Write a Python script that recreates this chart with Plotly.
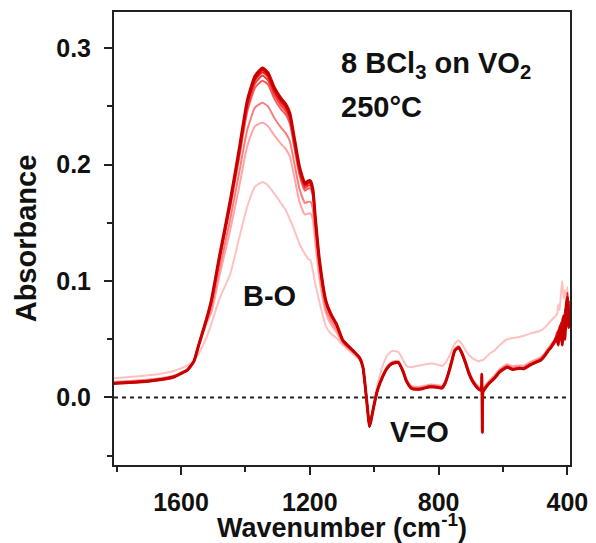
import plotly.graph_objects as go

# Wavenumber grid (cm^-1), shared by all spectra
wavenumber = [1808, 1760, 1700, 1650, 1620, 1600, 1580, 1560, 1544, 1520,
              1506, 1480, 1447, 1420, 1394, 1370, 1347, 1330, 1310, 1290,
              1275, 1262, 1250, 1232, 1215, 1205, 1198, 1190, 1183, 1170,
              1150, 1135, 1117, 1097, 1065, 1045, 1035, 1028, 1020, 1015,
              1010, 1003, 990, 975, 960, 945, 925, 910, 900, 885,
              870, 850, 830, 815, 800, 790, 780, 770, 760, 750,
              738, 728, 717, 705, 696, 685, 675, 668, 666, 664,
              662, 655, 640, 628, 610, 587, 570, 550, 535, 515,
              500, 483, 470, 460, 451, 440, 432, 428, 424, 420,
              416, 412, 408, 404, 400, 396, 393]

# Absorbance spectra, lightest (first) to darkest (last)
spec1 = [0.0165, 0.0175, 0.0190, 0.0210, 0.0230, 0.0250, 0.0275, 0.0315, 0.0380, 0.0520,
         0.0630, 0.0850, 0.1060, 0.1360, 0.1640, 0.1810, 0.1850, 0.1820, 0.1750, 0.1670,
         0.1610, 0.1530, 0.1450, 0.1320, 0.1230, 0.1190, 0.1180, 0.1080, 0.0980, 0.0820,
         0.0610, 0.0550, 0.0510, 0.0450, 0.0370, 0.0320, 0.0250, 0.0100, -0.0110, -0.0230,
         -0.0180, -0.0070, 0.0110, 0.0260, 0.0360, 0.0400, 0.0390, 0.0320, 0.0270, 0.0260,
         0.0270, 0.0280, 0.0290, 0.0290, 0.0280, 0.0270, 0.0290, 0.0340, 0.0400, 0.0460,
         0.0490, 0.0460, 0.0410, 0.0360, 0.0340, 0.0320, 0.0310, 0.0320, 0.0320, 0.0320,
         0.0320, 0.0340, 0.0380, 0.0400, 0.0450, 0.0500, 0.0510, 0.0520, 0.0530, 0.0550,
         0.0560, 0.0575, 0.0600, 0.0630, 0.0660, 0.0690, 0.0720, 0.0800, 0.0750, 0.0900,
         0.1000, 0.0850, 0.0920, 0.0800, 0.0950, 0.0700, 0.0800]

spec2 = [0.0135, 0.0142, 0.0155, 0.0172, 0.0190, 0.0215, 0.0243, 0.0310, 0.0445, 0.0640,
         0.0725, 0.1050, 0.1440, 0.1800, 0.2160, 0.2330, 0.2360, 0.2330, 0.2250, 0.2180,
         0.2135, 0.2070, 0.1920, 0.1680, 0.1570, 0.1580, 0.1580, 0.1520, 0.1330, 0.1020,
         0.0725, 0.0630, 0.0560, 0.0460, 0.0385, 0.0330, 0.0255, 0.0100, -0.0115, -0.0240,
         -0.0190, -0.0090, 0.0075, 0.0185, 0.0265, 0.0305, 0.0315, 0.0235, 0.0160, 0.0100,
         0.0092, 0.0097, 0.0110, 0.0110, 0.0105, 0.0100, 0.0140, 0.0220, 0.0320, 0.0415,
         0.0445, 0.0398, 0.0320, 0.0222, 0.0168, 0.0122, 0.0094, 0.0085, 0.0083, 0.0082,
         0.0080, 0.0105, 0.0155, 0.0185, 0.0245, 0.0285, 0.0268, 0.0275, 0.0272, 0.0305,
         0.0325, 0.0345, 0.0385, 0.0425, 0.0455, 0.0500, 0.0540, 0.0560, 0.0520, 0.0620,
         0.0580, 0.0650, 0.0720, 0.0600, 0.0820, 0.0700, 0.0680]

spec3 = [0.0130, 0.0138, 0.0150, 0.0168, 0.0186, 0.0212, 0.0240, 0.0310, 0.0455, 0.0660,
         0.0763, 0.1110, 0.1530, 0.1920, 0.2300, 0.2490, 0.2530, 0.2500, 0.2400, 0.2320,
         0.2270, 0.2200, 0.2040, 0.1790, 0.1670, 0.1680, 0.1680, 0.1610, 0.1410, 0.1080,
         0.0760, 0.0665, 0.0585, 0.0470, 0.0390, 0.0333, 0.0257, 0.0100, -0.0117, -0.0245,
         -0.0195, -0.0095, 0.0068, 0.0178, 0.0258, 0.0298, 0.0308, 0.0228, 0.0150, 0.0090,
         0.0081, 0.0086, 0.0100, 0.0100, 0.0095, 0.0090, 0.0130, 0.0210, 0.0310, 0.0408,
         0.0438, 0.0390, 0.0310, 0.0211, 0.0157, 0.0111, 0.0082, 0.0073, 0.0072, 0.0071,
         0.0068, 0.0093, 0.0143, 0.0173, 0.0233, 0.0273, 0.0254, 0.0262, 0.0259, 0.0292,
         0.0312, 0.0333, 0.0372, 0.0412, 0.0442, 0.0490, 0.0500, 0.0580, 0.0480, 0.0650,
         0.0520, 0.0600, 0.0550, 0.0700, 0.0650, 0.0750, 0.0620]

spec4 = [0.0126, 0.0134, 0.0146, 0.0164, 0.0183, 0.0210, 0.0238, 0.0311, 0.0458, 0.0672,
         0.0805, 0.1180, 0.1632, 0.2045, 0.2458, 0.2660, 0.2720, 0.2689, 0.2564, 0.2478,
         0.2430, 0.2353, 0.2180, 0.1910, 0.1776, 0.1795, 0.1795, 0.1718, 0.1497, 0.1142,
         0.0805, 0.0700, 0.0613, 0.0480, 0.0395, 0.0336, 0.0258, 0.0100, -0.0118, -0.0247,
         -0.0198, -0.0098, 0.0064, 0.0174, 0.0254, 0.0294, 0.0304, 0.0224, 0.0145, 0.0085,
         0.0075, 0.0080, 0.0095, 0.0095, 0.0090, 0.0085, 0.0125, 0.0205, 0.0305, 0.0404,
         0.0434, 0.0385, 0.0305, 0.0205, 0.0151, 0.0105, 0.0076, 0.0066, 0.0066, 0.0066,
         0.0062, 0.0087, 0.0137, 0.0167, 0.0227, 0.0267, 0.0247, 0.0256, 0.0252, 0.0286,
         0.0306, 0.0326, 0.0366, 0.0406, 0.0436, 0.0485, 0.0470, 0.0540, 0.0510, 0.0620,
         0.0560, 0.0640, 0.0580, 0.0720, 0.0610, 0.0800, 0.0700]

spec5 = [0.0124, 0.0132, 0.0144, 0.0162, 0.0181, 0.0208, 0.0237, 0.0311, 0.0459, 0.0675,
         0.0814, 0.1195, 0.1653, 0.2072, 0.2491, 0.2696, 0.2764, 0.2725, 0.2599, 0.2511,
         0.2462, 0.2384, 0.2209, 0.1936, 0.1799, 0.1819, 0.1819, 0.1740, 0.1516, 0.1156,
         0.0814, 0.0707, 0.0619, 0.0484, 0.0397, 0.0337, 0.0259, 0.0100, -0.0119, -0.0248,
         -0.0199, -0.0099, 0.0062, 0.0172, 0.0252, 0.0292, 0.0302, 0.0222, 0.0142, 0.0082,
         0.0072, 0.0077, 0.0092, 0.0092, 0.0087, 0.0082, 0.0122, 0.0202, 0.0302, 0.0402,
         0.0432, 0.0382, 0.0302, 0.0202, 0.0148, 0.0102, 0.0072, 0.0062, 0.0062, 0.0062,
         0.0058, 0.0083, 0.0133, 0.0163, 0.0223, 0.0263, 0.0243, 0.0253, 0.0249, 0.0283,
         0.0303, 0.0323, 0.0363, 0.0403, 0.0433, 0.0482, 0.0540, 0.0490, 0.0560, 0.0530,
         0.0600, 0.0560, 0.0680, 0.0640, 0.0750, 0.0650, 0.0830]

spec6 = [0.0122, 0.0130, 0.0142, 0.0160, 0.0180, 0.0207, 0.0236, 0.0310, 0.0460, 0.0678,
         0.0821, 0.1206, 0.1669, 0.2093, 0.2517, 0.2724, 0.2793, 0.2754, 0.2626, 0.2537,
         0.2488, 0.2409, 0.2231, 0.1955, 0.1817, 0.1837, 0.1837, 0.1758, 0.1531, 0.1166,
         0.0821, 0.0712, 0.0624, 0.0487, 0.0398, 0.0338, 0.0259, 0.0100, -0.0119, -0.0249,
         -0.0200, -0.0100, 0.0061, 0.0171, 0.0251, 0.0291, 0.0301, 0.0221, 0.0141, 0.0081,
         0.0071, 0.0076, 0.0091, 0.0091, 0.0086, 0.0081, 0.0121, 0.0201, 0.0301, 0.0401,
         0.0431, 0.0381, 0.0301, 0.0201, 0.0147, 0.0101, 0.0071, 0.0061, 0.0180, -0.0260,
         0.0052, 0.0081, 0.0131, 0.0161, 0.0221, 0.0261, 0.0241, 0.0251, 0.0247, 0.0281,
         0.0301, 0.0321, 0.0361, 0.0401, 0.0431, 0.0470, 0.0560, 0.0500, 0.0620, 0.0540,
         0.0680, 0.0520, 0.0760, 0.0600, 0.0900, 0.0680, 0.0800]

spec7 = [0.0121, 0.0129, 0.0141, 0.0159, 0.0179, 0.0206, 0.0235, 0.0310, 0.0460, 0.0679,
         0.0826, 0.1214, 0.1678, 0.2107, 0.2534, 0.2742, 0.2812, 0.2772, 0.2643, 0.2553,
         0.2502, 0.2423, 0.2244, 0.1966, 0.1827, 0.1847, 0.1847, 0.1768, 0.1540, 0.1172,
         0.0826, 0.0717, 0.0627, 0.0489, 0.0399, 0.0339, 0.0260, 0.0100, -0.0120, -0.0250,
         -0.0200, -0.0100, 0.0060, 0.0170, 0.0250, 0.0290, 0.0300, 0.0220, 0.0140, 0.0080,
         0.0070, 0.0075, 0.0090, 0.0090, 0.0085, 0.0080, 0.0120, 0.0200, 0.0300, 0.0400,
         0.0430, 0.0380, 0.0300, 0.0200, 0.0146, 0.0100, 0.0070, 0.0060, 0.0065, 0.0058,
         0.0050, 0.0080, 0.0130, 0.0160, 0.0220, 0.0260, 0.0240, 0.0250, 0.0246, 0.0280,
         0.0300, 0.0320, 0.0360, 0.0400, 0.0430, 0.0475, 0.0500, 0.0580, 0.0520, 0.0640,
         0.0550, 0.0620, 0.0700, 0.0580, 0.0820, 0.0720, 0.0650]

spec8 = [0.0120, 0.0128, 0.0140, 0.0158, 0.0178, 0.0205, 0.0235, 0.0310, 0.0460, 0.0680,
         0.0830, 0.1220, 0.1690, 0.2120, 0.2550, 0.2760, 0.2830, 0.2790, 0.2660, 0.2570,
         0.2520, 0.2440, 0.2260, 0.1980, 0.1840, 0.1860, 0.1860, 0.1780, 0.1550, 0.1180,
         0.0830, 0.0720, 0.0630, 0.0490, 0.0400, 0.0340, 0.0260, 0.0100, -0.0120, -0.0250,
         -0.0200, -0.0100, 0.0060, 0.0170, 0.0250, 0.0290, 0.0300, 0.0220, 0.0140, 0.0080,
         0.0070, 0.0075, 0.0090, 0.0090, 0.0085, 0.0080, 0.0120, 0.0200, 0.0300, 0.0400,
         0.0430, 0.0380, 0.0300, 0.0200, 0.0146, 0.0100, 0.0070, 0.0060, 0.0200, -0.0300,
         0.0050, 0.0080, 0.0130, 0.0160, 0.0220, 0.0260, 0.0240, 0.0250, 0.0246, 0.0280,
         0.0300, 0.0320, 0.0360, 0.0400, 0.0430, 0.0480, 0.0520, 0.0450, 0.0600, 0.0570,
         0.0450, 0.0700, 0.0500, 0.0780, 0.0860, 0.0600, 0.0750]

spectra = [spec1, spec2, spec3, spec4, spec5, spec6, spec7, spec8]
colors = ["rgb(255,192,192)", "rgb(255,165,165)", "rgb(250,125,125)", "rgb(245,92,92)",
          "rgb(240,62,62)", "rgb(234,30,30)", "rgb(224,0,0)", "rgb(200,0,0)"]
widths = [2, 2, 2, 2, 2, 2, 2, 3]

x_ticks = [1600, 1200, 800, 400]
y_ticks = [0.0, 0.1, 0.2, 0.3]

for s in spectra:
    assert len(s) == len(wavenumber), (len(s), len(wavenumber))

fig = go.Figure()
for s, c, w in zip(spectra, colors, widths):
    fig.add_trace(go.Scatter(x=wavenumber, y=s, mode="lines",
                             line=dict(color=c, width=w, shape="spline", smoothing=0.5),
                             showlegend=False, hoverinfo="skip"))

fig.add_hline(y=0, line=dict(color="#222", width=2, dash="4px,4px"), layer="below")

FONT = "Liberation Sans, Arial, sans-serif"
axis_common = dict(showline=True, linecolor="#222", linewidth=2, mirror=True,
                   ticks="outside", ticklen=8, tickwidth=2, tickcolor="#222",
                   showgrid=False, zeroline=False, automargin=False,
                   tickfont=dict(family=FONT, size=25, color="#111", weight="bold"))

fig.update_xaxes(range=[1808, 392], tickmode="array", tickvals=x_ticks,
                 ticktext=[str(v) for v in x_ticks],
                 minor=dict(ticks="outside", ticklen=5, tickwidth=2, tickcolor="#222",
                            tickmode="linear", tick0=400, dtick=200),
                 title=dict(text="Wavenumber (cm<sup>-1</sup>)", standoff=9,
                            font=dict(family=FONT, size=27, color="#111", weight="bold")),
                 ticklabelstandoff=6,
                 **axis_common)
fig.update_yaxes(range=[-0.058, 0.331], tickmode="array", tickvals=y_ticks,
                 ticktext=["%.1f" % v for v in y_ticks],
                 minor=dict(ticks="outside", ticklen=5, tickwidth=2, tickcolor="#222",
                            tickmode="linear", tick0=0, dtick=0.05),
                 title=dict(text="Absorbance", standoff=11,
                            font=dict(family=FONT, size=29, color="#111", weight="bold")),
                 ticklabelstandoff=8,
                 **axis_common)

ann_font = dict(family=FONT, size=29, color="#111", weight="bold")
fig.add_annotation(xref="paper", yref="paper", x=0.493, y=0.883, xanchor="left", yanchor="middle",
                   text="8 BCl<sub>3</sub> on VO<sub>2</sub>", showarrow=False, font=ann_font)
fig.add_annotation(xref="paper", yref="paper", x=0.493, y=0.790, xanchor="left", yanchor="middle",
                   text="250°C", showarrow=False, font=ann_font)
fig.add_annotation(xref="paper", yref="paper", x=0.340, y=0.373, xanchor="center", yanchor="middle",
                   text="B-O", showarrow=False, font=ann_font)
fig.add_annotation(xref="paper", yref="paper", x=0.671, y=0.073, xanchor="center", yanchor="middle",
                   text="V=O", showarrow=False, font=ann_font)

# page body adds an 8px offset; compensate so the plot area lands at the reference position
fig.update_layout(width=588, height=535, margin=dict(l=106, r=26, t=4, b=78),
                  plot_bgcolor="white", paper_bgcolor="white")

fig.write_html("out.html")
